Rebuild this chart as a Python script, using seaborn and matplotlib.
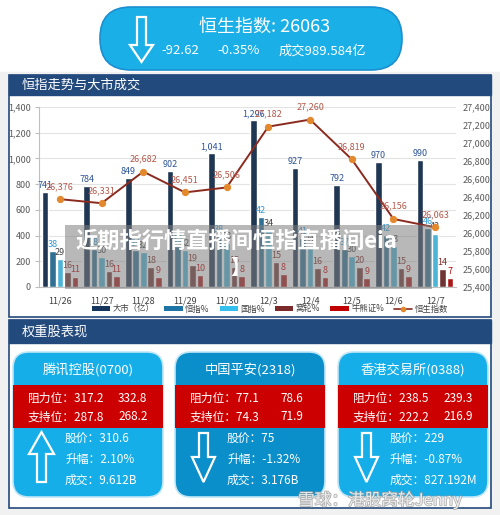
import numpy as np
import pandas as pd
import matplotlib
matplotlib.use("Agg")
import matplotlib.pyplot as plt
import seaborn as sns
from matplotlib.patches import FancyBboxPatch, Rectangle, Polygon, Patch
from matplotlib.lines import Line2D
import matplotlib.patheffects as pe

# ---------------- data ----------------
dates = ['11/26', '11/27', '11/28', '11/29', '11/30', '12/3', '12/4', '12/5', '12/6', '12/7']
market = [741, 784, 849, 902, 1041, 1296, 927, 792, 970, 990]
hsi_pct = [38, 38, 34, 35, 38, 42, 41, 37, 42, 46]
hscei_pct = [29, 30, 32, 32, 33, 34, 34, 30, 33, 42]
warrant_pct = [16, 16, 18, 19, 15, 15, 16, 20, 15, 14]
cbbc_pct = [11, 11, 9, 10, 8, 8, 8, 9, 9, 7]
hsi_index = [26376, 26331, 26682, 26451, 26506, 27182, 27260, 26819, 26156, 26063]

series_names = ['大市（亿）', '恒指%', '国指%', '窝轮%', '牛熊证%']
line_name = '恒生指数'
left_ticks = [0, 200, 400, 600, 800, 1000, 1200, 1400]
right_ticks = [25400, 25600, 25800, 26000, 26200, 26400, 26600, 26800, 27000, 27200, 27400]

header_title = '恒生指数: 26063'
header_sub = ['-92.62', '-0.35%', '成交989.584亿']
panel1_title = '恒指走势与大市成交'
panel2_title = '权重股表现'

stock_names = ['腾讯控股(0700)', '中国平安(2318)', '香港交易所(0388)']
resist = [('317.2', '332.8'), ('77.1', '78.6'), ('238.5', '239.3')]
support = [('287.8', '268.2'), ('74.3', '71.9'), ('222.2', '216.9')]
prices = ['310.6', '75', '229']
changes = ['2.10%', '-1.32%', '-0.87%']
volumes = ['9.612B', '3.176B', '827.192M']
directions = ['up', 'down', 'down']

# ---------------- style ----------------
sns.set_style('white')
plt.rcParams['font.family'] = ['Noto Sans CJK SC', 'DejaVu Sans']
plt.rcParams['axes.unicode_minus'] = False

W, H = 500, 515
fig = plt.figure(figsize=(W / 100, H / 100), dpi=100)
fig.patch.set_facecolor('white')

NAVY = '#234a7c'
CARD_LIGHT = '#16aee8'
CARD_DARK = '#0b8fcb'
RED = '#cc0000'

# background layer in pixel coordinates
bg = fig.add_axes([0, 0, 1, 1], zorder=0)
bg.set_xlim(0, W)
bg.set_ylim(H, 0)
bg.axis('off')

bg.add_patch(Rectangle((0, 72), W, H - 72, color='#f1f1f1', zorder=0))

# top pill
bg.add_patch(FancyBboxPatch((100, 7), 302, 63, boxstyle='round,pad=0,rounding_size=31',
                            facecolor='#1aafe7', edgecolor='#1c8fd0', lw=1.2, zorder=1))
bg.add_patch(Polygon([(137, 17), (146, 17), (146, 45), (153, 45), (141.5, 62),
                      (130, 45), (137, 45)], closed=True, facecolor='none',
                     edgecolor='white', lw=1.6, zorder=2))
bg.text(265, 27, header_title, color='white', fontsize=13, ha='center', va='center', zorder=3)
bg.text(180, 51, header_sub[0], color='white', fontsize=9.5, ha='center', va='center', zorder=3)
bg.text(239, 51, header_sub[1], color='white', fontsize=9.5, ha='center', va='center', zorder=3)
bg.text(322, 51, header_sub[2], color='white', fontsize=9.5, ha='center', va='center', zorder=3)

# panel 1
bg.add_patch(Rectangle((9, 75), 482, 242, facecolor='white', edgecolor=NAVY, lw=1.2, zorder=1))
bg.add_patch(Rectangle((9, 75), 482, 20, facecolor=NAVY, edgecolor=NAVY, zorder=2))
bg.text(22, 85, panel1_title, color='white', fontsize=9.5, ha='left', va='center', zorder=3)

# panel 2
bg.add_patch(Rectangle((9, 320), 482, 188, facecolor='white', edgecolor=NAVY, lw=1.2, zorder=1))
bg.add_patch(Rectangle((9, 320), 482, 23, facecolor=NAVY, edgecolor=NAVY, zorder=2))
bg.text(22, 332, panel2_title, color='white', fontsize=9.5, ha='left', va='center', zorder=3)

# cards
card_lefts = [13, 175, 338]
card_colors = [CARD_LIGHT, CARD_DARK, CARD_LIGHT]
for i, cl in enumerate(card_lefts):
    cw = 150
    bg.add_patch(FancyBboxPatch((cl, 352), cw, 145, boxstyle='round,pad=0,rounding_size=16',
                                facecolor=card_colors[i], edgecolor='#bfe6f7', lw=1.2, zorder=2))
    bg.add_patch(Rectangle((cl, 385), cw, 43, facecolor=RED, edgecolor='none', zorder=3))
    bg.text(cl + cw / 2, 370, stock_names[i], color='white', fontsize=9.5,
            ha='center', va='center', zorder=4)
    bg.text(cl + 15, 398, '阻力位：' + resist[i][0], color='white', fontsize=8.5,
            ha='left', va='center', zorder=4)
    bg.text(cl + 105, 398, resist[i][1], color='white', fontsize=8.5,
            ha='left', va='center', zorder=4)
    bg.text(cl + 15, 417, '支持位：' + support[i][0], color='white', fontsize=8.5,
            ha='left', va='center', zorder=4)
    bg.text(cl + 105, 417, support[i][1], color='white', fontsize=8.5,
            ha='left', va='center', zorder=4)
    bg.text(cl + 52, 439, '股价：' + prices[i], color='white', fontsize=8.5,
            ha='left', va='center', zorder=4)
    bg.text(cl + 52, 459, '升幅：' + changes[i], color='white', fontsize=8.5,
            ha='left', va='center', zorder=4)
    bg.text(cl + 52, 480, '成交：' + volumes[i], color='white', fontsize=8.5,
            ha='left', va='center', zorder=4)
    ax0 = cl + 16
    if directions[i] == 'up':
        pts = [(ax0 + 12.5, 432), (ax0 + 25, 454), (ax0 + 17, 454), (ax0 + 17, 482),
               (ax0 + 8, 482), (ax0 + 8, 454), (ax0, 454)]
    else:
        pts = [(ax0 + 8, 433), (ax0 + 17, 433), (ax0 + 17, 457), (ax0 + 24, 457),
               (ax0 + 12.5, 482), (ax0 + 1, 457), (ax0 + 8, 457)]
    bg.add_patch(Polygon(pts, closed=True, facecolor='none', edgecolor='white', lw=1.6, zorder=4))

# ---------------- chart ----------------
ax = fig.add_axes([39 / W, 1 - 287 / H, 417 / W, 180 / H], zorder=2)
ax.set_facecolor('none')

heights = {
    series_names[0]: market,
    series_names[1]: [p / 100 * m for p, m in zip(hsi_pct, market)],
    series_names[2]: [p / 100 * m for p, m in zip(hscei_pct, market)],
    series_names[3]: [p / 100 * m for p, m in zip(warrant_pct, market)],
    series_names[4]: [p / 100 * m for p, m in zip(cbbc_pct, market)],
}
rows = []
for s in series_names:
    for d, h in zip(dates, heights[s]):
        rows.append({'date': d, 'series': s, 'value': h})
df = pd.DataFrame(rows)

bar_colors = ['#17365d', '#1f74a6', '#33c0ef', '#7a2a2a', '#c00000']
sns.barplot(data=df, x='date', y='value', hue='series', hue_order=series_names,
            order=dates, palette=bar_colors, width=0.9, gap=0.12, errorbar=None,
            legend=False, ax=ax, zorder=2)

ax.set_xlim(-0.5, 9.5)
ax.set_ylim(0, 1400)
ax.set_yticks(left_ticks)
ax.set_yticklabels([f'{t:,}' for t in left_ticks])
ax.set_xlabel('')
ax.set_ylabel('')
ax.yaxis.grid(True, color='#e3e3e3', lw=0.8, zorder=0)
ax.set_axisbelow(True)
for sp in ['top', 'right']:
    ax.spines[sp].set_visible(False)
ax.spines['left'].set_color('#bfbfbf')
ax.spines['bottom'].set_color('#bfbfbf')
ax.tick_params(axis='y', labelsize=6.5, colors='#595959', length=3, color='#bfbfbf', pad=3)
ax.tick_params(axis='x', labelsize=6.5, colors='#404040', length=0, pad=7)

label_colors = ['#2f5597', '#2e9bd6', '#404040', '#7b2c2c', '#c00000']
label_texts = [
    [f'{v:,}' for v in market],
    [str(v) for v in hsi_pct],
    [str(v) for v in hscei_pct],
    [str(v) for v in warrant_pct],
    [str(v) for v in cbbc_pct],
]
for cont, labs, col in zip(ax.containers, label_texts, label_colors):
    ax.bar_label(cont, labels=labs, padding=1.5, fontsize=6.5, color=col)

ax2 = ax.twinx()
ax2.set_facecolor('none')
xpos = np.arange(len(dates))
sns.lineplot(x=xpos, y=hsi_index, ax=ax2, color='#8b2a1e', lw=1.4, marker='o',
             markersize=4.5, markerfacecolor='#e3892d', markeredgecolor='#e3892d', zorder=5)
ax2.set_ylim(25400, 27400)
ax2.set_yticks(right_ticks)
ax2.set_yticklabels([f'{t:,}' for t in right_ticks])
ax2.tick_params(axis='y', labelsize=6.5, colors='#595959', length=0, pad=5)
for sp in ['top', 'right', 'left', 'bottom']:
    ax2.spines[sp].set_visible(False)
for x, y in zip(xpos, hsi_index):
    ax2.annotate(f'{y:,}', (x, y), xytext=(0, 6), textcoords='offset points',
                 ha='center', va='bottom', fontsize=6.5, color='#b5594b', zorder=6)

# legend
handles = [Patch(facecolor=c, edgecolor='none') for c in bar_colors]
handles.append(Line2D([0], [0], color='#8b2a1e', lw=1.2, marker='o', markersize=3,
                      markerfacecolor='#e3892d', markeredgecolor='#e3892d'))
fig.legend(handles, series_names + [line_name], loc='center', ncol=6,
           bbox_to_anchor=(270 / W, 1 - 309 / H), frameon=False, fontsize=6,
           handlelength=2.2, handleheight=0.6, handletextpad=0.3, columnspacing=1.2,
           labelcolor='#404040')

# ---------------- overlay ----------------
ov = fig.add_axes([0, 0, 1, 1], zorder=10)
ov.set_xlim(0, W)
ov.set_ylim(H, 0)
ov.axis('off')
ov.patch.set_alpha(0)
ov.add_patch(Rectangle((65, 225), 367, 64, facecolor='#7f7f7f', alpha=0.55,
                       edgecolor='none', zorder=1))
ov.text(75, 241, '近期指行情直播间恒指直播间eia', color='white', fontsize=16,
        fontweight='bold', ha='left', va='center', zorder=2)
ov.text(240, 268, '】', color='white', fontsize=14, fontweight='bold',
        ha='center', va='center', zorder=2)
ov.text(298, 500, '雪球：港股窝轮Jenny', color='white', fontsize=12, alpha=0.75,
        ha='left', va='center', zorder=2,
        path_effects=[pe.withStroke(linewidth=1.2, foreground='#9a9a9a')])

fig.savefig('out.png', dpi=100)
